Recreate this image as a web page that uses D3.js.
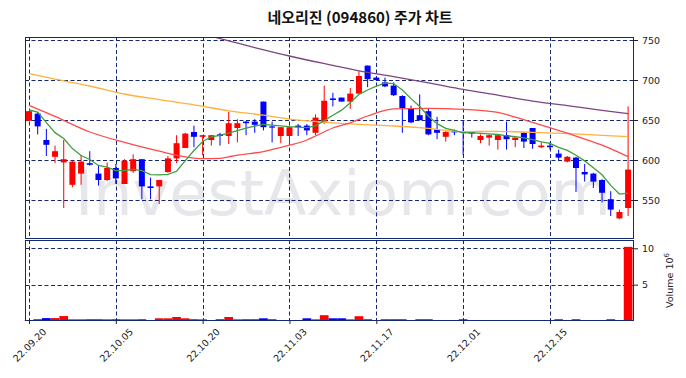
<!DOCTYPE html>
<html><head><meta charset="utf-8">
<script src="https://cdn.jsdelivr.net/npm/d3@7"></script>
<style>body{margin:0;background:#fff}svg{display:block}</style>
</head><body><svg id="c" width="686" height="378"></svg>
<script>
// ---- data ----
const dates = ["22.09.20","22.09.21","22.09.22","22.09.23","22.09.26","22.09.27","22.09.28","22.09.29","22.09.30","22.10.04",
"22.10.05","22.10.06","22.10.07","22.10.11","22.10.12","22.10.13","22.10.14","22.10.17","22.10.18","22.10.19",
"22.10.20","22.10.21","22.10.24","22.10.25","22.10.26","22.10.27","22.10.28","22.10.31","22.11.01","22.11.02",
"22.11.03","22.11.04","22.11.07","22.11.08","22.11.09","22.11.10","22.11.11","22.11.14","22.11.15","22.11.16",
"22.11.17","22.11.18","22.11.21","22.11.22","22.11.23","22.11.24","22.11.25","22.11.28","22.11.29","22.11.30",
"22.12.01","22.12.02","22.12.05","22.12.06","22.12.07","22.12.08","22.12.09","22.12.12","22.12.13","22.12.14",
"22.12.15","22.12.16","22.12.19","22.12.20","22.12.21","22.12.22","22.12.23","22.12.26","22.12.27","22.12.28"];
const open  = [649,658,625,604,597,569,583,596,583,575, 590,570,586,601,567,567,585,602,615,635, 629,625,632,630,640,648,648,673,642,630,
               630,643,643,634,648,677,678,673,683,718, 703,697,693,680,664,656,661,638,629,636, 636,635,625,628,625,631,625,634,640,616,
               618,608,598,603,585,583,575,551,527,540];
const high  = [661,660,639,618,625,599,606,611,593,597, 595,601,607,601,578,575,605,631,634,643, 631,631,634,660,651,649,651,673,648,641,
               642,645,645,657,693,684,678,690,711,718, 704,703,697,681,668,682,664,654,636,638, 649,636,632,632,632,648,628,635,640,622,
               622,613,605,604,595,584,576,561,538,667];
const low   = [649,632,605,596,540,566,569,593,568,574, 570,570,584,551,551,545,584,596,615,616, 606,618,618,620,622,631,634,637,622,621,
               619,630,631,631,645,667,673,664,683,691, 699,691,680,634,646,649,631,626,623,631, 606,628,621,618,613,613,616,615,614,615,
               613,600,597,560,573,565,547,530,526,530];
const close = [661,642,619,611,601,598,598,594,575,590, 577,599,601,567,565,575,602,621,633,629, 631,631,630,646,646,646,644,641,641,641,
               641,641,637,653,674,675,673,683,705,701, 700,692,681,665,647,650,632,634,635,635, 634,633,630,631,631,626,628,623,620,618,
               616,603,604,590,582,573,559,538,535,588];
const volume = [0.10,0.23,0.40,0.40,0.68,0.23,0.23,0.23,0.23,0.23, 0.23,0.23,0.23,0.23,0.10,0.37,0.37,0.55,0.37,0.23,
                0.23,0.10,0.23,0.55,0.23,0.23,0.23,0.37,0.23,0.10, 0.10,0.10,0.37,0.23,0.80,0.37,0.37,0.23,0.66,0.23,
                0.10,0.23,0.23,0.23,0.10,0.23,0.23,0.10,0.10,0.10, 0.23,0.10,0.10,0.10,0.10,0.10,0.10,0.10,0.10,0.10,
                0.10,0.23,0.10,0.23,0.10,0.10,0.10,0.23,0.10,10.2];
const ma5 = [662.5,660,646.7,634.2,626.8,614.3,605.6,600.6,593.2,591.0, 586.7,586.9,588.2,586.6,581.8,581.4,581.9,585.9,599.2,611.9,
             623.2,629.0,630.9,633.5,636.8,639.7,642.4,644.5,643.5,642.6, 641.7,641.1,640.4,642.7,649.2,656.0,662.3,671.6,682.1,687.5,
             692.4,696.1,695.6,687.5,676.7,666.8,654.8,645.4,639.5,637.1, 633.9,634.2,633.3,632.6,631.9,630.2,629.1,627.7,625.4,622.7,
             620.7,615.8,612.0,606.0,598.9,590.2,581.5,568.3,557.4,558.7];
const ma20Idx = [0,3,7,11,15,18,20,22,23,24,27,30,32,33,35,37,39,42,46,50,54,56,58,62,66,68,69];
const ma20Val = [668.3,654.5,635,622,611,604,601.7,602,604,606,610.5,618.5,625,630,640,646.5,655,664,664.5,663.3,659.5,653.5,647,633.5,618.5,609.2,604.2];
const ma60Idx = [0,3,7,11,15,19,23,27,30,35,38,42,46,50,54,58,62,66,69];
const ma60Val = [708,701,692.5,682.5,675.5,669,661.5,656,651,646.5,644.5,642.5,639.5,635.5,635.8,634.5,633,630.8,629.2];
const ma120Idx = [19,21,23,26,30,35,38,42,46,50,54,58,62,66,69];
const ma120Val = [760,754.6,749,740.6,730,718.3,711.5,704.2,696.5,688.3,681,673.5,668,662,657.9];
const priceTicks = [550,600,650,700,750];
const volTicks = [5,10];
const dateTickIdx = [0,10,20,30,40,50,60];
const title = "네오리진 (094860) 주가 차트";
const watermark = "InvestAxiom.com";

// ---- layout ----
const L=25, R=634, T=37, B=239, VT=240, VB=321;
const navy = "#14286e", up="#ff0000", dn="#0000ff";
const svg = d3.select("#c");
const x = d3.scaleLinear().domain([-0.46, 69.68]).range([L, R]);
const y = d3.scaleLinear().domain([501.25, 753.75]).range([B, T]);
const yv = d3.scaleLinear().domain([0, 11.14]).range([VB, VT]);
const step = x(1) - x(0);

svg.append("defs").append("clipPath").attr("id","clipMain")
  .append("rect").attr("x",L).attr("y",T).attr("width",R-L).attr("height",B-T);

// title
svg.append("text").attr("x",360).attr("y",23).attr("text-anchor","middle")
  .attr("font-family","'Noto Sans CJK KR', sans-serif").attr("font-weight","bold")
  .attr("font-size",15).attr("fill","#111").text(title);

// watermark
svg.append("text").attr("x",75).attr("y",215)
  .attr("font-family","'DejaVu Sans', sans-serif").attr("font-size",62)
  .attr("fill","#e6e6eb").text(watermark);

// grid
const grid = svg.append("g").attr("stroke",navy).attr("stroke-width",1).attr("stroke-dasharray","4,2.5").attr("fill","none");
priceTicks.forEach(v => grid.append("line").attr("x1",L).attr("x2",R).attr("y1",Math.round(y(v))+0.5).attr("y2",Math.round(y(v))+0.5));
volTicks.forEach(v => grid.append("line").attr("x1",L).attr("x2",R).attr("y1",Math.round(yv(v))+0.5).attr("y2",Math.round(yv(v))+0.5));
dateTickIdx.forEach(i => {
  const xx = Math.round(x(i))+0.5;
  grid.append("line").attr("x1",xx).attr("x2",xx).attr("y1",T).attr("y2",B);
  grid.append("line").attr("x1",xx).attr("x2",xx).attr("y1",VT).attr("y2",VB);
});

// candles
const idx = d3.range(close.length);
const cg = svg.append("g").attr("clip-path","url(#clipMain)");
idx.forEach(i => {
  const col = close[i] >= open[i] ? up : dn;
  cg.append("line").attr("x1",x(i)).attr("x2",x(i)).attr("y1",y(high[i])).attr("y2",y(low[i]))
    .attr("stroke",col).attr("stroke-width",1);
  const top = y(Math.max(open[i],close[i])), bot = y(Math.min(open[i],close[i]));
  cg.append("rect").attr("x",x(i)-3).attr("width",6).attr("y",top).attr("height",Math.max(1.2,bot-top)).attr("fill",col);
});

// moving averages
const lineLin = d3.line().x(d=>x(d[0])).y(d=>y(d[1]));
const lineSm = d3.line().x(d=>x(d[0])).y(d=>y(d[1])).curve(d3.curveMonotoneX);
const lg = svg.append("g").attr("clip-path","url(#clipMain)").attr("fill","none").attr("stroke-width",1.3);
lg.append("path").attr("d", lineSm(ma120Idx.map((k,j)=>[k,ma120Val[j]]))).attr("stroke","#7d4580");
lg.append("path").attr("d", lineSm(ma60Idx.map((k,j)=>[k,ma60Val[j]]))).attr("stroke","#ffb13d");
lg.append("path").attr("d", lineSm(ma20Idx.map((k,j)=>[k,ma20Val[j]]))).attr("stroke","#ff4a4a");
lg.append("path").attr("d", lineLin(ma5.map((v,i)=>[i,v]))).attr("stroke","#3f9f3f");

// volume bars
const vg = svg.append("g");
idx.forEach(i => {
  const col = close[i] >= open[i] ? up : dn;
  vg.append("rect").attr("x",x(i)-step/2).attr("width",step).attr("y",yv(volume[i])).attr("height",VB-yv(volume[i])).attr("fill",col);
});

// frames
svg.append("rect").attr("x",L+0.5).attr("y",T+0.5).attr("width",R-L-1).attr("height",B-T-1).attr("fill","none").attr("stroke",navy);
svg.append("rect").attr("x",L+0.5).attr("y",VT+0.5).attr("width",R-L-1).attr("height",VB-VT-1).attr("fill","none").attr("stroke",navy);

// axes
const fontF = "'DejaVu Sans', sans-serif";
function styleAxis(g){ g.select(".domain").remove(); g.selectAll("text").attr("font-family",fontF).attr("font-size",9.5).attr("fill","#222"); g.selectAll("line").attr("stroke","#222"); }
svg.append("g").attr("transform",`translate(${R},0)`).call(d3.axisRight(y).tickValues(priceTicks).tickSize(4).tickPadding(4)).call(styleAxis);
svg.append("g").attr("transform",`translate(${R},0)`).call(d3.axisRight(yv).tickValues(volTicks).tickSize(4).tickPadding(4)).call(styleAxis);
const xa = svg.append("g").attr("transform",`translate(0,${VB})`)
  .call(d3.axisBottom(x).tickValues(dateTickIdx).tickFormat(i=>dates[i]).tickSize(3)).call(styleAxis);
xa.selectAll("text").attr("text-anchor","middle").attr("dy",null).attr("y",null)
  .attr("dominant-baseline","central")
  .attr("transform","translate(0,24) rotate(-45)");

// volume label
const vl = svg.append("text").attr("transform","translate(673,280.5) rotate(-90)").attr("text-anchor","middle")
  .attr("font-family",fontF).attr("font-size",9.5).attr("fill","#222");
vl.append("tspan").text("Volume  10");
vl.append("tspan").attr("dy",-4).attr("font-size",7).text("6");
</script></body></html>
